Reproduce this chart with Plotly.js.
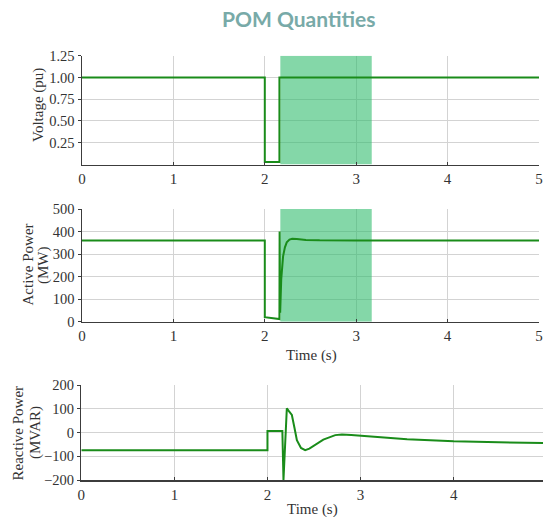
<!DOCTYPE html>
<html><head><meta charset="utf-8">
<script src="https://cdn.plot.ly/plotly-3.0.1.min.js"></script>
<style>html,body{margin:0;padding:0;background:#fff}#chart{width:543px;height:517px}</style>
</head><body><div id="chart"></div>
<script>
// ---- data ----
const timeVoltage = [0, 2.0, 2.0, 2.16, 2.16, 5];
const voltage     = [1.0, 1.0, 0.03, 0.03, 1.0, 1.0];

const timeActive = [0, 2.0, 2.0, 2.16, 2.162, 2.168, 2.18, 2.19, 2.2, 2.22, 2.24, 2.27, 2.3, 2.35, 2.45, 2.6, 3.0, 5.0];
const activePower = [360, 360, 20, 12, 400, 40, 190, 250, 290, 330, 352, 364, 368, 367, 363, 361, 360, 360];

const timeReactive = [0, 2.0, 2.0, 2.16, 2.172, 2.208, 2.23, 2.262, 2.29, 2.316, 2.36, 2.405, 2.45, 2.513, 2.6, 2.728, 2.8, 2.9, 3.0, 3.3, 3.5, 4.0, 4.5, 5.0];
const reactivePower = [-75, -75, 6, 6, -200, 102, 90, 74, 20, -32, -65, -74, -68, -53, -30, -11, -8, -10, -13, -22, -28, -37, -42, -45];

// shaded window (s)
const shadeWindow = [2.17, 3.17];

const xTicks = [0, 1, 2, 3, 4, 5];
const vTicks = [0.25, 0.5, 0.75, 1.0, 1.25];
const vTickText = ['0.25', '0.50', '0.75', '1.00', '1.25'];
const pTicks = [0, 100, 200, 300, 400, 500];
const qTicks = [-200, -100, 0, 100, 200];
const qTickText = ['\u2212200', '\u2212100', '0', '100', '200'];

const vRange = [0, 1.25], pRange = [0, 500], qRange = [-200, 200];

// ---- style ----
const W = 543, H = 517;
const px = v => v / W, py = v => 1 - v / H;
const lineColor = '#1a8c1a';
const shadeColor = 'rgba(50,188,110,0.6)';
const gridColor = '#d3d3d3';
const axColor = '#3c3c3c';
const SERIF = '"Liberation Serif", "Times New Roman", serif';
const mkFont = (s) => ({family: SERIF, size: s || 14, color: '#333'});

function xAx(domain, range, anchor) {
  return {domain, range, anchor, tickmode: 'array', tickvals: xTicks, showgrid: true, gridcolor: gridColor, gridwidth: 1,
    zeroline: false, showline: true, linecolor: axColor, linewidth: 1.5, ticks: 'inside', ticklen: 3,
    tickcolor: axColor, tickfont: mkFont(15), fixedrange: true};
}
function yAx(domain, range, anchor, tickvals, ticktext) {
  const a = {domain, range, anchor, tickmode: 'array', tickvals, showgrid: true, gridcolor: gridColor, gridwidth: 1,
    zeroline: false, showline: true, linecolor: axColor, linewidth: 1.5, ticks: 'outside', ticklen: 3,
    tickcolor: axColor, tickfont: mkFont(14.5), fixedrange: true};
  if (ticktext) a.ticktext = ticktext;
  return a;
}

function shadeTrace(xa, ya, yr) {
  const [a, b] = shadeWindow;
  return {x: [a, b, b, a, a], y: [yr[0], yr[0], yr[1], yr[1], yr[0]], xaxis: xa, yaxis: ya,
    mode: 'lines', fill: 'toself', fillcolor: shadeColor, line: {width: 0}, hoverinfo: 'none'};
}

const traces = [
  shadeTrace('x', 'y', vRange),
  shadeTrace('x2', 'y2', pRange),
  {x: timeVoltage, y: voltage, xaxis: 'x', yaxis: 'y', mode: 'lines', line: {color: lineColor, width: 2}, hoverinfo: 'none'},
  {x: timeActive, y: activePower, xaxis: 'x2', yaxis: 'y2', mode: 'lines', line: {color: lineColor, width: 2}, hoverinfo: 'none'},
  {x: timeReactive, y: reactivePower, xaxis: 'x3', yaxis: 'y3', mode: 'lines', line: {color: lineColor, width: 2}, hoverinfo: 'none'}
];

function ann(text, x, y, angle) {
  return {text, xref: 'paper', yref: 'paper', x: px(x), y: py(y), showarrow: false, textangle: angle || 0,
    font: mkFont(15), xanchor: 'center', yanchor: 'middle'};
}

const layout = {
  width: W, height: H, margin: {l: 0, r: 0, t: 0, b: 0}, showlegend: false,
  font: {family: SERIF, size: 15, color: '#333'},
  paper_bgcolor: '#fff', plot_bgcolor: 'rgba(0,0,0,0)',
  xaxis:  xAx([px(82), px(539)], [0, 5], 'y'),
  yaxis:  yAx([py(164.5), py(55.7)], vRange, 'x', vTicks, vTickText),
  xaxis2: xAx([px(82), px(539)], [0, 5], 'y2'),
  yaxis2: yAx([py(321.7), py(209)], pRange, 'x2', pTicks),
  xaxis3: xAx([px(81.3), 1], [0, 4.96], 'y3'),
  yaxis3: yAx([py(480), py(385)], qRange, 'x3', qTicks, qTickText),
  annotations: [
    {text: '<b>POM Quantities</b>', xref: 'paper', yref: 'paper', x: px(298), y: py(18), showarrow: false,
     font: {family: 'Lato, "Open Sans", sans-serif', size: 21, color: '#78aaa8'}, xanchor: 'center', yanchor: 'middle'},
    ann('Voltage (pu)', 39, 105, -90),
    ann('Active Power', 27.5, 265, -90),
    ann('(MW)', 43, 265, -90),
    ann('Time (s)', 311, 355),
    ann('Reactive Power', 17.5, 433, -90),
    ann('(MVAR)', 35, 433, -90),
    ann('Time (s)', 312, 509)
  ]
};

Plotly.newPlot('chart', traces, layout, {displayModeBar: false, staticPlot: true});
</script>
</body></html>
